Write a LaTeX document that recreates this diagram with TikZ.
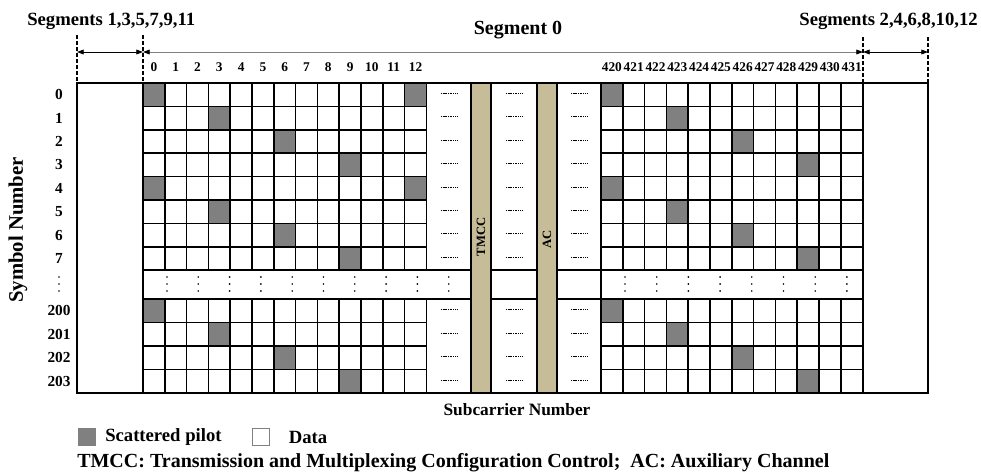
\documentclass[tikz,border=0pt]{standalone}
\usepackage{fontspec}
\setmainfont{Liberation Serif}
\usepackage{xcolor}
\usepackage{tikz}
\usetikzlibrary{arrows.meta,positioning}

\definecolor{pilotgray}{RGB}{128,128,128}
\definecolor{bartan}{RGB}{198,188,152}

\begin{document}
\begin{tikzpicture}[
  x=0.75pt, y=-0.75pt,
  grid/.style={line width=1.1pt},
  pilot/.style={fill=pilotgray},
  bar/.style={fill=bartan, draw, line width=1.1pt},
  lbl/.style={font=\bfseries\fontsize{10}{12}\selectfont, inner sep=0pt},
  rowlbl/.style={font=\bfseries\fontsize{11.5}{13}\selectfont, inner sep=0pt},
  title/.style={font=\bfseries\fontsize{14}{16}\selectfont, inner sep=0pt},
  barlbl/.style={font=\bfseries\fontsize{9.5}{11}\selectfont, inner sep=0pt, rotate=90},
  swatch/.style={minimum size=14pt, inner sep=0pt, line width=1pt},
  dim/.style={{Triangle[length=5pt,width=3.6pt,color=black]}-{Triangle[length=5pt,width=3.6pt,color=black]}, line width=0.6pt},
  guide/.style={dashed, dash pattern=on 3pt off 1.5pt, line width=0.8pt},
  gap/.style={dash pattern=on 0.8pt off 0.5pt, line width=0.7pt},
  vdot/.style={fill, circle, inner sep=0pt, minimum size=1.4pt}
]
  \useasboundingbox (0,0) rectangle (981,475);

  % scattered pilots
  \foreach \r/\c in {0/0,0/12,1/3,2/6,3/9,4/0,4/12,5/3,6/6,7/9}
    \fill[pilot] ({143+21.8*\c},{83+23.4*\r}) rectangle +(21.8,23.4);
  \foreach \k/\c in {0/0,1/3,2/6,3/9}
    \fill[pilot] ({143+21.8*\c},{299+23.5*\k}) rectangle +(21.8,23.5);
  \foreach \r/\c in {0/0,1/3,2/6,3/9,4/0,5/3,6/6,7/9}
    \fill[pilot] ({601+21.8*\c},{83+23.4*\r}) rectangle +(21.8,23.4);
  \foreach \k/\c in {0/0,1/3,2/6,3/9}
    \fill[pilot] ({601+21.8*\c},{299+23.5*\k}) rectangle +(21.8,23.5);

  % TMCC and AC carriers
  \draw[bar] (471,83) rectangle (491,393);
  \draw[bar] (537,83) rectangle (557,393);
  \node[barlbl] (TmccLbl) at (481,237) {TMCC};
  \node[barlbl] (AcLbl) at (547,239) {AC};

  % left block (carriers 0..12)
  \foreach \r in {1,...,7}
    \draw[grid] (143,{83+23.4*\r}) -- (427,{83+23.4*\r});
  \foreach \k in {1,2,3}
    \draw[grid] (143,{299+23.5*\k}) -- (427,{299+23.5*\k});
  \foreach \c in {1,...,13} {
    \draw[grid] ({143+21.8*\c},83) -- ({143+21.8*\c},270.2);
    \draw[grid] ({143+21.8*\c},299) -- ({143+21.8*\c},393);
  }
  \draw[grid] (143,83) -- (143,393);
  \draw[grid] (143,270.2) -- (471,270.2);
  \draw[grid] (143,299) -- (471,299);

  % middle column
  \draw[grid] (491,270.2) -- (537,270.2);
  \draw[grid] (491,299) -- (537,299);

  % right block (carriers 420..431)
  \foreach \r in {1,...,7}
    \draw[grid] (601,{83+23.4*\r}) -- (863,{83+23.4*\r});
  \foreach \k in {1,2,3}
    \draw[grid] (601,{299+23.5*\k}) -- (863,{299+23.5*\k});
  \foreach \c in {1,...,11} {
    \draw[grid] ({601+21.8*\c},83) -- ({601+21.8*\c},270.2);
    \draw[grid] ({601+21.8*\c},299) -- ({601+21.8*\c},393);
  }
  \draw[grid] (601,83) -- (601,393);
  \draw[grid] (863,83) -- (863,393);
  \draw[grid] (557,270.2) -- (863,270.2);
  \draw[grid] (557,299) -- (863,299);

  % outer frame
  \draw[grid] (77,83) rectangle (928,393);

  % skipped carriers
  \foreach \x in {449,514,579} {
    \foreach \r in {0,...,7}
      \draw[gap] ({\x-8},{83+23.4*\r+10.5}) -- ++(16,0);
    \foreach \k in {0,...,3}
      \draw[gap] ({\x-8},{299+23.5*\k+10.5}) -- ++(16,0);
  }

  % skipped symbols
  \foreach \x in {59,167,198.3,229.6,260.9,292.2,323.5,354.8,386.1,417.4,448.7,
                  625,656.7,688.4,720.1,751.8,783.5,815.2,846.9}
    \foreach \y in {277,284,291}
      \node[vdot] at (\x,\y) {};

  % carrier numbers
  \foreach \c in {0,...,12}
    \node[lbl] (col\c) at ({143+21.8*(\c+0.5)},67) {\c};
  \foreach \c [evaluate=\c as \n using int(420+\c)] in {0,...,11}
    \node[lbl] (col\n) at ({601+21.8*(\c+0.5)},67) {\n};

  % symbol numbers
  \foreach \r in {0,...,7}
    \node[rowlbl] (row\r) at (59,{83+23.4*\r+11.7}) {\r};
  \foreach \k [evaluate=\k as \n using int(200+\k)] in {0,...,3}
    \node[rowlbl] (row\n) at (59,{299+23.5*\k+11.75}) {\n};

  % segment widths
  \coordinate (OddL) at (77,52);
  \coordinate (OddR) at (143,52);
  \coordinate (EvenL) at (863,52);
  \coordinate (EvenR) at (928,52);
  \draw[guide] (77,35) -- (77,83);
  \draw[guide] (143,35) -- (143,83);
  \draw[guide] (863,37) -- (863,83);
  \draw[guide] (928,37) -- (928,83);
  \draw[dim] (OddL) -- (OddR);
  \draw[dim, draw=gray] (OddR) -- (EvenL);
  \draw[dim] (EvenL) -- (EvenR);

  \node[title, anchor=west] (SegOdd) at (27,21) {Segments 1,3,5,7,9,11};
  \node[title, font=\bfseries\fontsize{15}{17}\selectfont] (SegZero) at (518,30) {Segment 0};
  \node[title, anchor=east] (SegEven) at (978,21) {Segments 2,4,6,8,10,12};

  % axes
  \node[title, rotate=90, font=\bfseries\fontsize{15.5}{17}\selectfont] (SymAxis) at (18,230) {Symbol Number};
  \node[title, font=\bfseries\fontsize{13}{15}\selectfont] (SubAxis) at (517,410) {Subcarrier Number};

  % key
  \node[swatch, fill=pilotgray] (KeyPilot) at (87,437) {};
  \node[title, right=6pt of KeyPilot] (KeyPilotTxt) {Scattered pilot};
  \node[swatch, draw=gray, minimum size=12.5pt] (KeyData) at (261,437) {};
  \node[title, right=14pt of KeyData] (KeyDataTxt) {Data};
  \node[title, anchor=west, font=\bfseries\fontsize{15}{17}\selectfont] (Abbrev) at (77,463)
    {TMCC: Transmission and Multiplexing Configuration Control;\enspace AC: Auxiliary Channel};
\end{tikzpicture}
\end{document}
